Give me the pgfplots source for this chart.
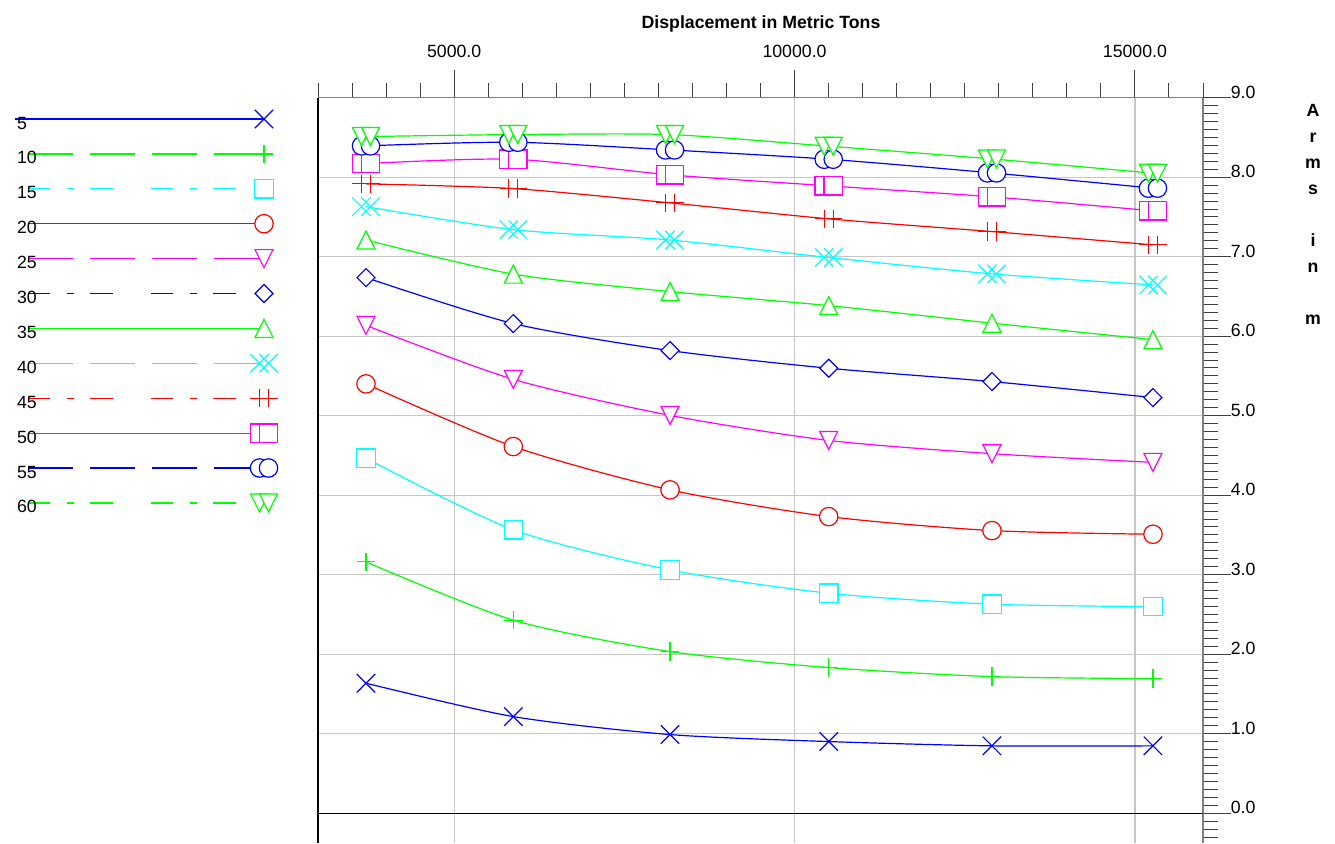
\documentclass[border=0pt]{standalone}
\usepackage{fontspec}
\setmainfont{Liberation Sans}
\usepackage{pgfplots}
\pgfplotsset{compat=1.18}

\definecolor{cB}{RGB}{0,0,255}
\definecolor{cG}{RGB}{0,255,0}
\definecolor{cC}{RGB}{0,255,255}
\definecolor{cR}{RGB}{255,0,0}
\definecolor{cM}{RGB}{255,0,255}

\newcommand{\fs}{\fontsize{8.85}{10.6}\selectfont}

\pgfdeclareplotmark{mx}{%
 \pgfpathmoveto{\pgfqpoint{-4.6pt}{-4.6pt}}\pgfpathlineto{\pgfqpoint{4.6pt}{4.6pt}}%
 \pgfpathmoveto{\pgfqpoint{-4.6pt}{4.6pt}}\pgfpathlineto{\pgfqpoint{4.6pt}{-4.6pt}}%
 \pgfusepathqstroke}
\pgfdeclareplotmark{mp}{%
 \pgfpathmoveto{\pgfqpoint{-4.6pt}{0pt}}\pgfpathlineto{\pgfqpoint{4.6pt}{0pt}}%
 \pgfpathmoveto{\pgfqpoint{0pt}{-4.6pt}}\pgfpathlineto{\pgfqpoint{0pt}{4.6pt}}%
 \pgfusepathqstroke}
\pgfdeclareplotmark{msq}{%
 \pgfpathrectangle{\pgfqpoint{-4.6pt}{-4.6pt}}{\pgfqpoint{9.2pt}{9.2pt}}\pgfusepathqfillstroke}
\pgfdeclareplotmark{mo}{%
 \pgfpathcircle{\pgfpointorigin}{4.6pt}\pgfusepathqfillstroke}
\pgfdeclareplotmark{mtd}{%
 \pgfpathmoveto{\pgfqpoint{-4.5pt}{4.5pt}}\pgfpathlineto{\pgfqpoint{4.5pt}{4.5pt}}%
 \pgfpathlineto{\pgfqpoint{0pt}{-4.5pt}}\pgfpathclose\pgfusepathqfillstroke}
\pgfdeclareplotmark{mtu}{%
 \pgfpathmoveto{\pgfqpoint{-4.5pt}{-4.5pt}}\pgfpathlineto{\pgfqpoint{4.5pt}{-4.5pt}}%
 \pgfpathlineto{\pgfqpoint{0pt}{4.5pt}}\pgfpathclose\pgfusepathqfillstroke}
\pgfdeclareplotmark{mdia}{%
 \pgfpathmoveto{\pgfqpoint{0pt}{4.5pt}}\pgfpathlineto{\pgfqpoint{4.5pt}{0pt}}%
 \pgfpathlineto{\pgfqpoint{0pt}{-4.5pt}}\pgfpathlineto{\pgfqpoint{-4.5pt}{0pt}}%
 \pgfpathclose\pgfusepathqfillstroke}
\newcommand{\dbl}[1]{%
 \begin{pgfscope}\pgftransformxshift{-2.25pt}\pgfuseplotmark{#1}\end{pgfscope}%
 \begin{pgfscope}\pgftransformxshift{2.25pt}\pgfuseplotmark{#1}\end{pgfscope}}
\pgfdeclareplotmark{mdx}{\dbl{mx}}
\pgfdeclareplotmark{mdp}{\dbl{mp}}
\pgfdeclareplotmark{mdsq}{\dbl{msq}}
\pgfdeclareplotmark{mdo}{\dbl{mo}}
\pgfdeclareplotmark{mdtd}{\dbl{mtd}}

\tikzset{
 ldash/.style={dash pattern=on 22.5pt off 8.5pt},
 ldd/.style={dash pattern=on 11pt off 8.3pt on 3.7pt off 8pt on 11.3pt off 19.2pt},
}

\begin{document}
\begin{tikzpicture}[font=\fs]
\path[use as bounding box] (0,0) rectangle (667.5pt,421.5pt);

\begin{axis}[
 at={(159pt,0pt)}, anchor=south west, scale only axis,
 width=442.5pt, height=372.65pt,
 xmin=3000, xmax=16000, ymin=-0.375, ymax=9,
 axis x line*=top, axis y line*=right,
 scaled x ticks=false, scaled y ticks=false,
 xtick={5000,10000,15000}, xticklabels={5000.0,10000.0,15000.0},
 minor xtick={3000,3500,...,16000},
 ytick={0,1,2,3,4,5,6,7,8,9},
 yticklabels={0.0,1.0,2.0,3.0,4.0,5.0,6.0,7.0,8.0,9.0},
 minor ytick={-0.3,-0.2,...,8.95},
 tick align=outside, major tick length=13.75pt, minor tick length=7.25pt,
 grid=major, major grid style={color=black!22, line width=0.6pt},
 axis line style={black!50, line width=0.6pt},
 tick style={black!75, line width=0.5pt},
 xticklabel style={anchor=south, inner sep=0pt, yshift=6pt, font=\fs},
 yticklabel style={anchor=south west, inner sep=0pt, yshift=-0.65pt, font=\fs},
 every axis plot/.append style={line width=0.6pt, smooth, tension=0.45,
   mark options={solid, fill=white, line width=0.6pt}},
 clip=false,
]
\draw[black, line width=0.6pt] (axis cs:3000,0) -- (axis cs:16000,0);
\draw[black, line width=0.6pt] (rel axis cs:0,0) -- (rel axis cs:0,1);

\addplot[cB, mark=mx] coordinates {(3705,1.635) (5869,1.215) (8171,0.989) (10502,0.901) (12900,0.847) (15265,0.847)};
\addplot[cG, mark=mp] coordinates {(3705,3.161) (5869,2.428) (8171,2.033) (10502,1.832) (12900,1.718) (15265,1.693)};
\addplot[cC, mark=msq] coordinates {(3705,4.465) (5869,3.564) (8171,3.060) (10502,2.767) (12900,2.629) (15265,2.599)};
\addplot[cR, mark=mo] coordinates {(3705,5.400) (5869,4.612) (8171,4.067) (10502,3.731) (12900,3.555) (15265,3.509)};
\addplot[cM, mark=mtd] coordinates {(3705,6.136) (5869,5.457) (8171,5.004) (10502,4.689) (12900,4.522) (15265,4.413)};
\addplot[cB, mark=mdia] coordinates {(3705,6.737) (5869,6.159) (8171,5.819) (10502,5.597) (12900,5.429) (15265,5.228)};
\addplot[cG, mark=mtu] coordinates {(3705,7.211) (5869,6.781) (8171,6.561) (10502,6.385) (12900,6.164) (15265,5.957)};
\addplot[cC, mark=mdx] coordinates {(3705,7.630) (5869,7.340) (8171,7.210) (10502,6.990) (12900,6.784) (15265,6.645)};
\addplot[cR, mark=mdp] coordinates {(3705,7.916) (5869,7.857) (8171,7.677) (10502,7.476) (12900,7.316) (15265,7.149)};
\addplot[cM, mark=mdsq] coordinates {(3705,8.171) (5869,8.226) (8171,8.030) (10502,7.891) (12900,7.753) (15265,7.577)};
\addplot[cB, mark=mdo] coordinates {(3705,8.394) (5869,8.440) (8171,8.343) (10502,8.226) (12900,8.054) (15265,7.862)};
\addplot[cG, mark=mdtd] coordinates {(3705,8.511) (5869,8.536) (8171,8.536) (10502,8.390) (12900,8.230) (15265,8.050)};
\end{axis}

\begin{axis}[
 at={(0pt,0pt)}, anchor=south west, scale only axis,
 width=667.5pt, height=421.5pt,
 xmin=0, xmax=1335, ymin=0, ymax=843, y dir=reverse,
 hide axis, clip=false,
 every axis plot/.append style={line width=0.6pt,
   mark options={solid, fill=white, line width=0.6pt}},
]
\addplot[cB, no marks] coordinates {(15,119) (264,119)};
\addplot[cB, only marks, mark=mx] coordinates {(264,119)};
\addplot[cG, no marks, ldash] coordinates {(28,153.9) (264,153.9)};
\addplot[cG, only marks, mark=mp] coordinates {(264,153.9)};
\addplot[cC, no marks, ldd] coordinates {(28,188.8) (264,188.8)};
\addplot[cC, only marks, mark=msq] coordinates {(264,188.8)};
\addplot[cR, no marks] coordinates {(28,223.7) (264,223.7)};
\addplot[cR, only marks, mark=mo] coordinates {(264,223.7)};
\addplot[cM, no marks, ldash] coordinates {(28,258.6) (264,258.6)};
\addplot[cM, only marks, mark=mtd] coordinates {(264,258.6)};
\addplot[cB, no marks, ldd] coordinates {(28,293.5) (264,293.5)};
\addplot[cB, only marks, mark=mdia] coordinates {(264,293.5)};
\addplot[cG, no marks] coordinates {(28,328.4) (264,328.4)};
\addplot[cG, only marks, mark=mtu] coordinates {(264,328.4)};
\addplot[cC, no marks, ldash] coordinates {(28,363.3) (264,363.3)};
\addplot[cC, only marks, mark=mdx] coordinates {(264,363.3)};
\addplot[cR, no marks, ldd] coordinates {(28,398.2) (264,398.2)};
\addplot[cR, only marks, mark=mdp] coordinates {(264,398.2)};
\addplot[cM, no marks] coordinates {(28,433.1) (264,433.1)};
\addplot[cM, only marks, mark=mdsq] coordinates {(264,433.1)};
\addplot[cB, no marks, ldash] coordinates {(28,468.0) (264,468.0)};
\addplot[cB, only marks, mark=mdo] coordinates {(264,468.0)};
\addplot[cG, no marks, ldd] coordinates {(28,502.9) (264,502.9)};
\addplot[cG, only marks, mark=mdtd] coordinates {(264,502.9)};

\node[anchor=base west] at (axis cs:10,129) {5};
\node[anchor=base west] at (axis cs:10,163.9) {10};
\node[anchor=base west] at (axis cs:10,198.8) {15};
\node[anchor=base west] at (axis cs:10,233.7) {20};
\node[anchor=base west] at (axis cs:10,268.6) {25};
\node[anchor=base west] at (axis cs:10,303.5) {30};
\node[anchor=base west] at (axis cs:10,338.4) {35};
\node[anchor=base west] at (axis cs:10,373.3) {40};
\node[anchor=base west] at (axis cs:10,408.2) {45};
\node[anchor=base west] at (axis cs:10,443.1) {50};
\node[anchor=base west] at (axis cs:10,478.0) {55};
\node[anchor=base west] at (axis cs:10,512.9) {60};

\node[anchor=base, font=\fs\bfseries] at (axis cs:761,28) {Displacement in Metric Tons};
\node[anchor=base, font=\fs\bfseries] at (axis cs:1313,116) {A};
\node[anchor=base, font=\fs\bfseries] at (axis cs:1313,142) {r};
\node[anchor=base, font=\fs\bfseries] at (axis cs:1313,168) {m};
\node[anchor=base, font=\fs\bfseries] at (axis cs:1313,194) {s};
\node[anchor=base, font=\fs\bfseries] at (axis cs:1313,246) {i};
\node[anchor=base, font=\fs\bfseries] at (axis cs:1313,272) {n};
\node[anchor=base, font=\fs\bfseries] at (axis cs:1313,324) {m};
\end{axis}
\end{tikzpicture}
\end{document}
